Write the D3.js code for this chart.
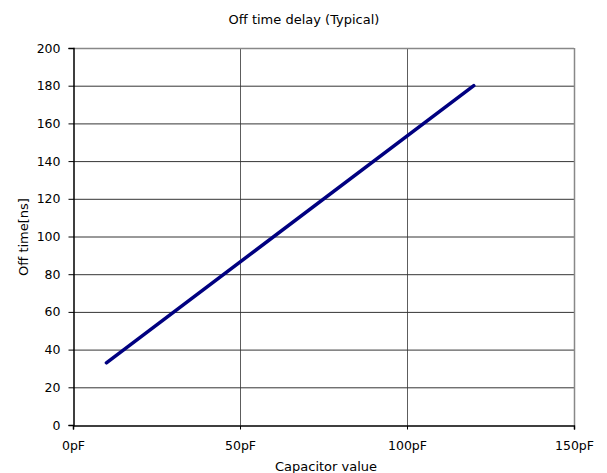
<!DOCTYPE html>
<html><head><meta charset="utf-8">
<script src="https://cdn.jsdelivr.net/npm/d3@7"></script>
<style>body{margin:0;background:#fff;} text{font-family:"DejaVu Sans",sans-serif;}</style>
</head><body>
<svg id="c" width="607" height="473"></svg>
<script>
const capValues = [10, 120];
const offTimes = [33, 180];
const xTicks = [0, 50, 100, 150];
const xTickLabels = ["0pF", "50pF", "100pF", "150pF"];
const yTicks = [0, 20, 40, 60, 80, 100, 120, 140, 160, 180, 200];
const title = "Off time delay (Typical)";
const xTitle = "Capacitor value";
const yTitle = "Off time[ns]";

const svg = d3.select("#c");
const L = 73, R = 574, T = 48, B = 425;
const x = d3.scaleLinear().domain([0,150]).range([L,R]);
const y = d3.scaleLinear().domain([0,200]).range([B,T]);

// grid
svg.append("g").selectAll("line").data(yTicks.filter(d=>d>0&&d<200)).join("line")
  .attr("x1",L).attr("x2",R).attr("y1",d=>y(d)+0.5).attr("y2",d=>y(d)+0.5)
  .attr("stroke","#000").attr("stroke-width",0.8);
svg.append("g").selectAll("line").data(xTicks.filter(d=>d>0&&d<150)).join("line")
  .attr("y1",T).attr("y2",B).attr("x1",d=>x(d)+0.5).attr("x2",d=>x(d)+0.5)
  .attr("stroke","#333").attr("stroke-width",0.8);
// border top/right gray
svg.append("line").attr("x1",L).attr("x2",R).attr("y1",T+0.5).attr("y2",T+0.5).attr("stroke","#888").attr("stroke-width",1.5);
svg.append("line").attr("x1",R+0.5).attr("x2",R+0.5).attr("y1",T).attr("y2",B).attr("stroke","#888").attr("stroke-width",1.5);

// axes
const yAxis = d3.axisLeft(y).tickValues(yTicks).tickSize(5).tickPadding(8);
const gy = svg.append("g").attr("transform",`translate(${L+0.5},0)`).call(yAxis);
const xAxis = d3.axisBottom(x).tickValues(xTicks).tickFormat((d,i)=>xTickLabels[i]).tickSize(4).tickPadding(12);
const gx = svg.append("g").attr("transform",`translate(0,${B+0.5})`).call(xAxis);
[gx,gy].forEach(g=>{
  g.select(".domain").attr("stroke","#000").attr("stroke-width",1.5);
  g.selectAll(".tick line").attr("stroke","#000");
  g.selectAll("text").attr("font-size",12.5).attr("fill","#000").attr("font-family","DejaVu Sans, sans-serif");
});

// line
svg.append("path").datum(capValues.map((c,i)=>[c,offTimes[i]]))
  .attr("d", d3.line().x(d=>x(d[0])).y(d=>y(d[1])))
  .attr("fill","none").attr("stroke","#000080").attr("stroke-width",3.5).attr("stroke-linecap","round");

// titles
svg.append("text").attr("x",304).attr("y",24).attr("text-anchor","middle").attr("font-size",13).text(title);
svg.append("text").attr("x",326).attr("y",471).attr("text-anchor","middle").attr("font-size",13).text(xTitle);
svg.append("text").attr("transform","translate(28,237) rotate(-90)").attr("text-anchor","middle").attr("font-size",13).text(yTitle);
</script>
</body></html>
